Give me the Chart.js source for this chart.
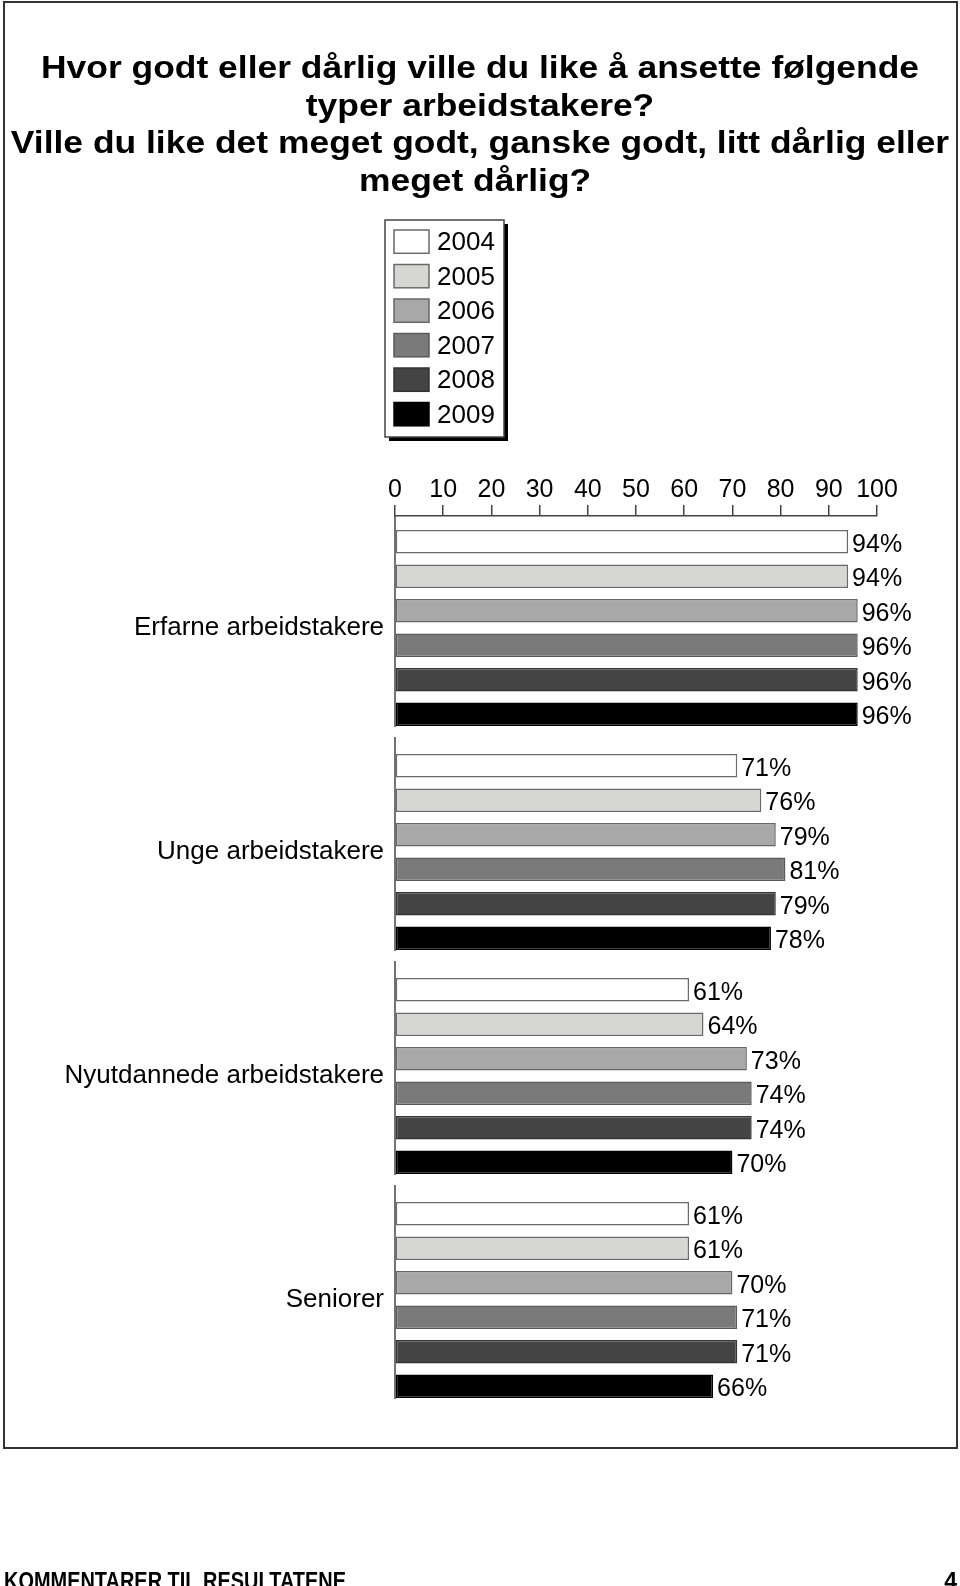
<!DOCTYPE html>
<html lang="no">
<head>
<meta charset="utf-8">
<title>Hvor godt eller dårlig ville du like å ansette følgende typer arbeidstakere?</title>
<script src="https://cdn.jsdelivr.net/npm/chart.js@4/dist/chart.umd.min.js"></script>
<style>
  html, body { margin: 0; padding: 0; background: #fff; }
  canvas { display: block; }
</style>
</head>
<body>
<canvas id="chart" width="960" height="1586"></canvas>
<script>
const FONT = '"Liberation Sans", Arial, Helvetica, sans-serif';

const titleLines = [
  'Hvor godt eller dårlig ville du like å ansette følgende',
  'typer arbeidstakere?',
  'Ville du like det meget godt, ganske godt, litt dårlig eller',
  'meget dårlig? ',
];
const footerText = 'KOMMENTARER TIL RESULTATENE';
const pageNumber = '4';

const categories = ['Erfarne arbeidstakere', 'Unge arbeidstakere', 'Nyutdannede arbeidstakere', 'Seniorer'];
const years = ['2004', '2005', '2006', '2007', '2008', '2009'];
const xTicks = [0, 10, 20, 30, 40, 50, 60, 70, 80, 90, 100];

// percent per year, in category order
const values2004 = [94, 71, 61, 61];
const values2005 = [94, 76, 64, 61];
const values2006 = [96, 79, 73, 70];
const values2007 = [96, 81, 74, 71];
const values2008 = [96, 79, 74, 71];
const values2009 = [96, 78, 70, 66];

const seriesValues = [values2004, values2005, values2006, values2007, values2008, values2009];
const fills = ['#ffffff', '#d6d6d4', '#a8a8a8', '#7a7a7a', '#444444', '#000000'];
const borders = ['#6a6a6a', '#6a6a6a', '#666666', '#5a5a5a', '#333333', '#000000'];

const datasets = years.map((year, i) => ({
  label: year,
  data: seriesValues[i],
  backgroundColor: fills[i],
  borderColor: borders[i],
  borderWidth: 1.5,
  borderSkipped: false,
  categoryPercentage: 0.924,
  barPercentage: 0.675,
}));

// page furniture: frame, title, footer
const pagePlugin = {
  id: 'page',
  beforeDraw(chart) {
    const { ctx } = chart;
    ctx.save();
    ctx.fillStyle = '#fff';
    ctx.fillRect(0, 0, chart.width, chart.height);

    ctx.strokeStyle = '#333';
    ctx.lineWidth = 2;
    ctx.strokeRect(4, 2, 953, 1446);

    // title is a wide bold face: stretch to match
    ctx.fillStyle = '#000';
    ctx.font = `bold 31px ${FONT}`;
    ctx.textBaseline = 'alphabetic';
    const stretch = 878 / ctx.measureText(titleLines[0]).width;
    titleLines.forEach((line, i) => {
      const w = ctx.measureText(line).width * stretch;
      ctx.save();
      ctx.translate(480 - w / 2, 78 + i * 37.5);
      ctx.scale(stretch, 1);
      ctx.fillText(line, 0, 0);
      ctx.restore();
    });

    // footer is a condensed bold face
    ctx.font = `bold 23px ${FONT}`;
    const squeeze = 342 / ctx.measureText(footerText).width;
    ctx.save();
    ctx.translate(4, 1589);
    ctx.scale(squeeze, 1);
    ctx.fillText(footerText, 0, 0);
    ctx.restore();
    ctx.textAlign = 'right';
    ctx.fillText(pageNumber, 957, 1589);
    ctx.restore();
  },
};

// boxed legend with drop shadow, built from the datasets
const boxLegendPlugin = {
  id: 'boxLegend',
  afterDraw(chart) {
    const { ctx } = chart;
    const left = 385, top = 220, w = 119, h = 217;
    ctx.save();
    ctx.fillStyle = '#000';
    ctx.fillRect(left + 4, top + 4, w, h);
    ctx.fillStyle = '#fff';
    ctx.fillRect(left, top, w, h);
    ctx.strokeStyle = '#444';
    ctx.lineWidth = 1.5;
    ctx.strokeRect(left, top, w, h);

    ctx.font = `26px ${FONT}`;
    ctx.textBaseline = 'middle';
    chart.data.datasets.forEach((ds, i) => {
      const y = 230 + i * 34.5;
      ctx.fillStyle = ds.backgroundColor;
      ctx.fillRect(394, y, 35, 23.3);
      ctx.strokeStyle = ds.borderColor;
      ctx.lineWidth = 1.5;
      ctx.strokeRect(394, y, 35, 23.3);
      ctx.fillStyle = '#000';
      ctx.fillText(ds.label, 437, y + 13);
    });
    ctx.restore();
  },
};

// one axis segment per group, and the value labels
const barDecorPlugin = {
  id: 'barDecor',
  afterDatasetsDraw(chart) {
    const { ctx, chartArea } = chart;
    const first = chart.getDatasetMeta(0).data;
    const last = chart.getDatasetMeta(chart.data.datasets.length - 1).data;
    ctx.save();
    ctx.strokeStyle = '#444';
    ctx.lineWidth = 1.5;
    first.forEach((bar, i) => {
      const top = bar.y - bar.height / 2 - 17;
      const bottom = last[i].y + last[i].height / 2 + 1;
      ctx.beginPath();
      ctx.moveTo(chartArea.left, i === 0 ? chartArea.top : top);
      ctx.lineTo(chartArea.left, bottom);
      ctx.stroke();
    });

    ctx.fillStyle = '#000';
    ctx.font = `25px ${FONT}`;
    ctx.textBaseline = 'alphabetic';
    chart.data.datasets.forEach((ds, di) => {
      chart.getDatasetMeta(di).data.forEach((bar, i) => {
        ctx.fillText(ds.data[i] + '%', bar.x + 4, bar.y + 10);
      });
    });
    ctx.restore();
  },
};

new Chart(document.getElementById('chart'), {
  type: 'bar',
  data: { labels: categories, datasets },
  plugins: [pagePlugin, boxLegendPlugin, barDecorPlugin],
  options: {
    responsive: false,
    animation: false,
    indexAxis: 'y',
    layout: { padding: { left: 0, right: 83, top: 476, bottom: 174 } },
    plugins: {
      legend: { display: false },
      title: { display: false },
      tooltip: { enabled: false },
    },
    scales: {
      x: {
        position: 'top',
        min: 0,
        max: 100,
        afterFit(scale) { scale.height = 40; },
        afterBuildTicks(scale) { scale.ticks = xTicks.map((v) => ({ value: v })); },
        grid: {
          display: true,
          drawOnChartArea: false,
          drawTicks: true,
          tickLength: 11,
          color: '#444',
          lineWidth: 1.5,
        },
        border: { display: true, color: '#444', width: 1.5 },
        ticks: {
          color: '#000',
          font: { family: FONT, size: 25 },
          padding: 0,
          maxRotation: 0,
        },
      },
      y: {
        afterFit(scale) { scale.width = 395; },
        grid: { display: false, drawTicks: false },
        border: { display: false },
        ticks: {
          color: '#000',
          font: { family: FONT, size: 26 },
          padding: 11,
        },
      },
    },
  },
});
</script>
</body>
</html>
